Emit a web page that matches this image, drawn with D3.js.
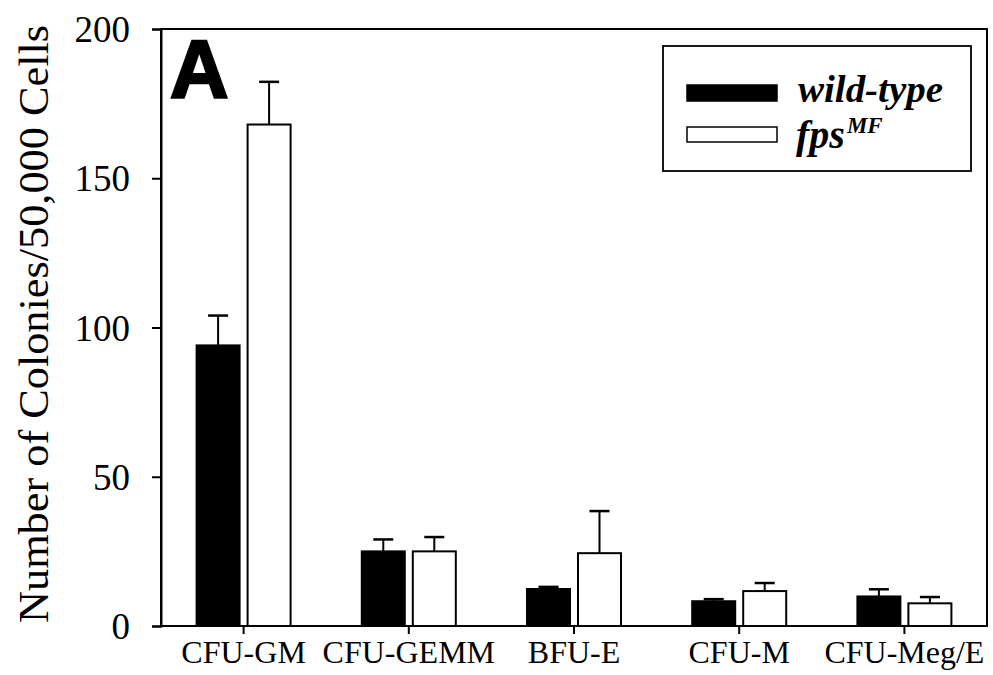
<!DOCTYPE html>
<html>
<head>
<meta charset="utf-8">
<script src="https://cdn.jsdelivr.net/npm/d3@7"></script>
<style>
  html, body { margin: 0; padding: 0; background: #fff; }
  svg { display: block; }
</style>
</head>
<body>
<svg id="chart" width="993" height="675"></svg>
<script>
const categories = ["CFU-GM", "CFU-GEMM", "BFU-E", "CFU-M", "CFU-Meg/E"];
const seriesNames = ["wild-type", "fps"];
const wildType = [94, 25, 12.4, 8.3, 9.9];
const wildTypeErr = [10, 4, 0.7, 0.7, 2.4];
const fpsMF = [168, 25, 24.4, 11.7, 7.6];
const fpsMFErr = [14.3, 4.8, 14.1, 2.7, 2.1];
const yTicks = [0, 50, 100, 150, 200];

const serif = "'Liberation Serif', 'Times New Roman', Times, serif";
const svg = d3.select("#chart");
const margin = { left: 161, right: 6, top: 29, bottom: 49 };
const W = 993, H = 675;
const x0 = margin.left, x1 = W - margin.right, yTop = margin.top, yBot = H - margin.bottom;

const x = d3.scaleBand().domain(categories).range([x0, x1]).padding(0);
const xs = d3.scaleBand().domain(seriesNames).range([-47, 47]).paddingInner(0.157).paddingOuter(0);
const y = d3.scaleLinear().domain([0, 200]).range([yBot, yTop]);

const data = categories.map((c, i) => ({
  cat: c,
  vals: [
    { s: "wild-type", v: wildType[i], e: wildTypeErr[i] },
    { s: "fps", v: fpsMF[i], e: fpsMFErr[i] }
  ]
}));

// frame
svg.append("rect")
  .attr("x", x0).attr("y", yTop)
  .attr("width", x1 - x0).attr("height", yBot - yTop)
  .attr("fill", "none").attr("stroke", "#000").attr("stroke-width", 2);

// y axis
const yAxis = svg.append("g")
  .attr("transform", `translate(${x0},0)`)
  .call(d3.axisLeft(y).tickValues(yTicks).tickSize(9).tickPadding(22).tickFormat(d3.format("d")));
yAxis.select(".domain").attr("stroke-width", 2);
yAxis.selectAll(".tick line").attr("stroke-width", 2);
yAxis.selectAll(".tick text")
  .attr("font-family", serif)
  .attr("font-size", 37).attr("fill", "#000").attr("dy", "0.34em");

// x axis
const xAxis = svg.append("g")
  .attr("transform", `translate(0,${yBot})`)
  .call(d3.axisBottom(x).tickSize(8).tickSizeOuter(0));
xAxis.select(".domain").remove();
xAxis.selectAll(".tick line").attr("stroke-width", 2);
xAxis.selectAll(".tick text")
  .attr("font-family", serif)
  .attr("font-size", 32).attr("fill", "#000")
  .attr("y", 37).attr("dy", 0);

// bars
const groups = svg.append("g").selectAll("g.cat")
  .data(data).join("g")
  .attr("class", "cat")
  .attr("transform", d => `translate(${x(d.cat) + x.bandwidth() / 2},0)`);

groups.selectAll("g.err").data(d => d.vals).join("g")
  .attr("class", "err")
  .each(function (d) {
    const g = d3.select(this);
    const cx = xs(d.s) + xs.bandwidth() / 2;
    g.append("line")
      .attr("x1", cx).attr("x2", cx)
      .attr("y1", y(d.v)).attr("y2", y(d.v + d.e))
      .attr("stroke", "#000").attr("stroke-width", 2);
    g.append("line")
      .attr("x1", cx - 10).attr("x2", cx + 10)
      .attr("y1", y(d.v + d.e)).attr("y2", y(d.v + d.e))
      .attr("stroke", "#000").attr("stroke-width", 2.5);
  });

groups.selectAll("rect.bar").data(d => d.vals).join("rect")
  .attr("class", "bar")
  .attr("x", d => xs(d.s))
  .attr("y", d => y(d.v))
  .attr("width", xs.bandwidth())
  .attr("height", d => y(0) - y(d.v))
  .attr("fill", d => d.s === "wild-type" ? "#000" : "#fff")
  .attr("stroke", "#000").attr("stroke-width", 2);

// y label
svg.append("text")
  .attr("transform", `translate(48,324) rotate(-90)`)
  .attr("text-anchor", "middle")
  .attr("font-family", serif)
  .attr("font-size", 42)
  .attr("textLength", 598).attr("lengthAdjust", "spacingAndGlyphs")
  .text("Number of Colonies/50,000 Cells");

// panel letter
svg.append("text")
  .attr("x", 170).attr("y", 97)
  .attr("font-family", "'Liberation Sans', Arial, sans-serif")
  .attr("font-weight", "bold").attr("font-size", 81)
  .attr("stroke", "#000").attr("stroke-width", 2.5)
  .text("A");

// legend
const lg = svg.append("g");
lg.append("rect")
  .attr("x", 663).attr("y", 46).attr("width", 308).attr("height", 125)
  .attr("fill", "#fff").attr("stroke", "#000").attr("stroke-width", 1.8);
lg.append("rect")
  .attr("x", 687).attr("y", 85).attr("width", 90).attr("height", 16)
  .attr("fill", "#000").attr("stroke", "#000").attr("stroke-width", 1.5);
lg.append("rect")
  .attr("x", 687).attr("y", 127).attr("width", 90).attr("height", 15)
  .attr("fill", "#fff").attr("stroke", "#000").attr("stroke-width", 1.5);
lg.append("text")
  .attr("x", 798).attr("y", 102)
  .attr("font-family", serif)
  .attr("font-weight", "bold").attr("font-style", "italic").attr("font-size", 37)
  .attr("textLength", 145).attr("lengthAdjust", "spacingAndGlyphs")
  .text("wild-type");
const fpsText = lg.append("text")
  .attr("x", 796).attr("y", 148)
  .attr("font-family", serif)
  .attr("font-weight", "bold").attr("font-style", "italic").attr("font-size", 40);
fpsText.append("tspan").text("fps");
fpsText.append("tspan").attr("font-size", 23).attr("dy", -15).attr("dx", 2).text("MF");
</script>
</body>
</html>
